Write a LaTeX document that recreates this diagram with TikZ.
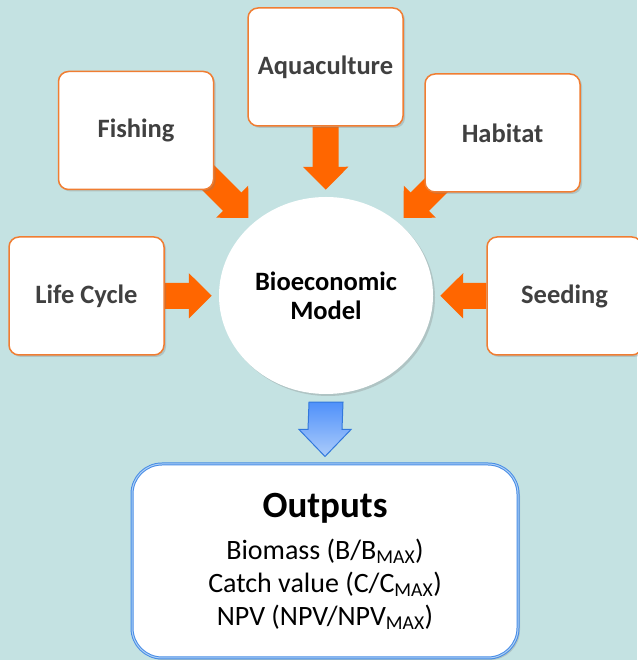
\documentclass[tikz,border=0pt]{standalone}
\usepackage{fontspec}
\setmainfont{Carlito}
\usepackage{tikz}
\usetikzlibrary{calc, shapes, shadows, arrows.meta, backgrounds}

\definecolor{seabg}{RGB}{196,226,226}
\definecolor{boxorange}{RGB}{240,125,50}
\definecolor{arroworange}{RGB}{255,102,0}
\definecolor{labelgray}{RGB}{64,64,64}
\definecolor{outblue}{RGB}{70,140,230}
\definecolor{outbluelight}{RGB}{175,208,245}
\definecolor{downedge}{RGB}{50,120,220}
\definecolor{downtop}{RGB}{80,145,250}
\definecolor{downbottom}{RGB}{172,204,250}

\begin{document}
\begin{tikzpicture}
  [
    x = 1pt, y = 1pt,
    inbox/.style = {draw = boxorange, line width = 1.5pt, fill = white,
      rounded corners = 10pt, minimum width = 155pt, minimum height = 118pt,
      font = \fontsize{26.5}{30}\selectfont\bfseries, text = labelgray,
      drop shadow = {opacity = 0.3, shadow xshift = 2pt, shadow yshift = -2pt}},
    modelnode/.style = {ellipse, fill = white, minimum width = 214pt,
      minimum height = 197pt, align = center,
      font = \fontsize{26.5}{29}\selectfont\bfseries,
      drop shadow = {opacity = 0.3, shadow xshift = 2pt, shadow yshift = -2pt}},
    outbox/.style = {draw = outblue, double = outbluelight, double distance = 1pt,
      line width = 1pt, fill = white, rounded corners = 30pt,
      minimum width = 386pt, minimum height = 194pt, align = center,
      font = \fontsize{28}{33}\selectfont,
      drop shadow = {opacity = 0.3, shadow xshift = 2pt, shadow yshift = -2pt}},
    feed/.style = {arroworange, line width = 26pt,
      -{Triangle[width = 44pt, length = 23pt]}, shorten > = 7pt},
    downarrow/.style = {draw = downedge, line width = 1pt,
      top color = downtop, bottom color = downbottom}
  ]
  \useasboundingbox (0,0) rectangle (637,660);
  \begin{scope}[on background layer]
    \fill[seabg] (0,0) rectangle (637,660);
  \end{scope}

  \node[modelnode] (model) at (326,364.5) {Bioeconomic\\Model};
  \node[inbox] (aqua) at (325.5,593) {Aquaculture};
  \node[inbox] (fishing) at (136,529.5) {Fishing};
  \node[inbox] (habitat) at (502.5,527) {Habitat};
  \node[inbox] (lifecycle) at (86.5,364) {Life Cycle};
  \node[inbox] (seeding) at (564.5,364) {Seeding};
  \node[outbox] (outputs) at (325,99)
    {{\fontsize{37}{40}\selectfont\bfseries Outputs}\\[9pt]
     Biomass (B/B\textsubscript{MAX})\\
     Catch value (C/C\textsubscript{MAX})\\
     NPV (NPV/NPV\textsubscript{MAX})};

  % inputs feed the model from behind the boxes
  \begin{scope}[on background layer]
    \draw[feed] (aqua) -- (model);
    \draw[feed] (lifecycle) -- (model);
    \draw[feed] (seeding) -- (model);
    \draw[feed] ([shift={(135:80pt)}]model.135) -- (model.135);
    \draw[feed] ([shift={(45:80pt)}]model.45) -- (model.45);
  \end{scope}

  \coordinate (dtop) at ([yshift=-8pt]model.south);
  \coordinate (dtip) at ([yshift=7pt]outputs.north);
  \draw[downarrow] ([xshift=-17pt]dtop) -- ([xshift=17pt]dtop)
    -- ([xshift=17pt,yshift=27pt]dtip) -- ([xshift=26pt,yshift=27pt]dtip)
    -- (dtip) -- ([xshift=-26pt,yshift=27pt]dtip)
    -- ([xshift=-17pt,yshift=27pt]dtip) -- cycle;
\end{tikzpicture}
\end{document}
